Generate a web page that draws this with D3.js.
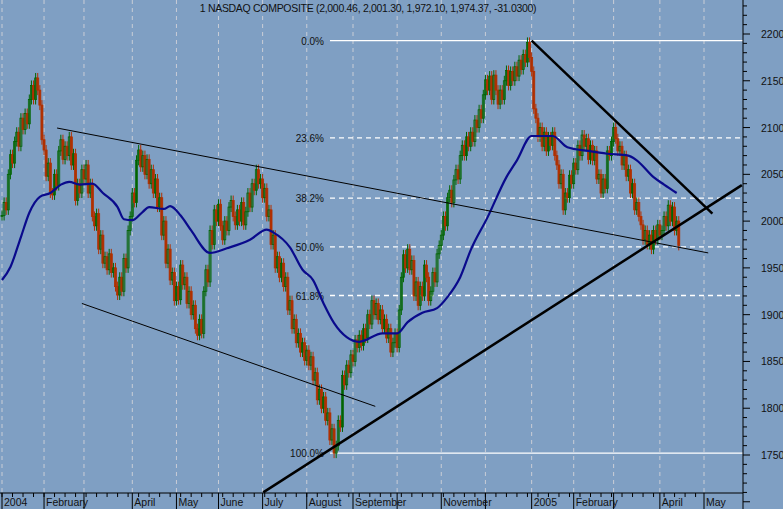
<!DOCTYPE html>
<html>
<head>
<meta charset="utf-8">
<script src="https://cdn.jsdelivr.net/npm/d3@7"></script>
<style>
  body { margin: 0; background: #7f9fc3; }
  svg { display: block; font-family: "Liberation Sans", Arial, sans-serif; }
</style>
</head>
<body>
<svg id="chart" width="783" height="509"></svg>
<script>
// month labels with trading-day index where the month starts ('' = no label)
const monthStarts = [0, 20, 39, 62, 83, 103, 124, 145, 167, 188, 209, 230, 252, 272, 291, 313, 334];
const monthLabels = ['2004', 'February', '', 'April', 'May', 'June', 'July', 'August', 'September', '', 'November', '', '2005', 'February', '', 'April', 'May'];

// daily closes, Jan 2004 .. mid Apr 2005
const closes = [
  2006,2020,2012,2050,2071,2062,2085,2095,2080,2110,2098,2115,2104,2130,2145,2130,2153,2140,2124,2087,
  2076,2048,2062,2030,2028,2050,2038,2075,2087,2066,2080,2070,2090,2060,2072,2022,2040,2030,2055,
  2045,2060,2030,2040,2005,1995,2008,1970,1985,1955,1962,1948,1965,1945,1950,1930,1921,1940,1925,1960,1950,1990,2005,
  2030,2020,2065,2076,2058,2070,2050,2066,2040,2055,2030,2045,2015,2025,1985,2000,1955,1970,1937,1945,1915,
  1930,1916,1953,1932,1940,1912,1925,1900,1910,1885,1878,1895,1880,1925,1948,1935,1990,1975,2012,2000,
  2018,1995,1980,2000,1990,2015,2022,2005,1996,2012,2000,2020,1996,2010,2030,2015,2040,2033,2055,2040,2045,
  2025,2035,2005,2012,1975,1985,1950,1962,1940,1955,1930,1940,1905,1915,1885,1895,1870,1880,1860,1870,1851,
  1862,1846,1855,1830,1838,1809,1820,1800,1812,1787,1795,1766,1778,1752,1760,1787,1780,1835,1825,1846,1838,1857,
  1850,1873,1865,1878,1867,1885,1875,1900,1890,1915,1900,1912,1895,1905,1885,1895,1875,1885,1860,1870,1880,
  1865,1905,1940,1964,1950,1970,1948,1958,1920,1935,1910,1930,1920,1953,1940,1915,1925,1945,1935,1965,1974,
  1985,2005,1995,2025,2033,2020,2044,2055,2045,2070,2081,2070,2090,2080,2095,2085,2108,2100,2119,2110,2135,
  2151,2140,2155,2130,2156,2140,2125,2140,2130,2150,2161,2145,2160,2150,2165,2155,2172,2162,2178,2170,2191,2175,
  2160,2120,2110,2090,2100,2080,2095,2075,2090,2081,2095,2070,2060,2040,2050,2012,2030,2025,2049,2040,
  2062,2055,2081,2070,2092,2080,2088,2066,2081,2065,2075,2045,2050,2030,2045,2035,2075,2070,2085,
  2100,2088,2075,2080,2060,2070,2048,2055,2030,2040,2012,2020,2005,1996,1980,1990,1975,1985,1970,1990,1980,1996,
  1985,1990,2005,1995,2017,2000,2015,1990,2000,1974
];

// moving average (day index, value)
const maIdx = [0,4,9,13,18,23,28,32,37,43,48,55,58,62,67,70,77,80,85,90,99,107,118,126,129,137,143,148,153,158,164,170,181,188,193,200,207,212,218,223,231,240,245,252,262,269,279,288,298,302,310,315,321];
const maVal = [1937,1951,1983,2009,2026,2030,2039,2042,2039,2040,2030,2015,2002,2001,2010,2015,2013,2016,2006,1990,1966,1971,1980,1991,1988,1972,1948,1937,1912,1891,1876,1871,1880,1880,1892,1902,1907,1919,1940,1969,2004,2047,2065,2091,2091,2079,2075,2072,2070,2065,2047,2039,2030];

// Fibonacci retracement between the low and the high
const fibHigh = 2193, fibLow = 1752;
const fibRatios = [0, 0.236, 0.382, 0.5, 0.618, 1];
const fibLabels = ['0.0%', '23.6%', '38.2%', '50.0%', '61.8%', '100.0%'];

// trend lines: [idx0, val0, idx1, val1, width]
const trendLines = [
  [26.2, 2099.5, 336, 1966, 1],
  [38, 1912, 177.6, 1802, 1],
  [124.3, 1710, 352, 2038.5, 2.5],
  [252, 2193, 338, 2008, 2.5]
];

const title = '1 NASDAQ COMPOSITE (2,000.46, 2,001.30, 1,972.10, 1,974.37, -31.0300)';

const svg = d3.select('#chart');
const plotW = 743, plotH = 493;

const x = d3.scaleLinear().domain([0, 334]).range([2, 704]);
const y = d3.scaleLinear().domain([1750, 2200]).range([455, 34]);

svg.append('defs').append('clipPath').attr('id', 'plot').append('rect')
  .attr('width', plotW).attr('height', plotH);

svg.append('rect').attr('width', 783).attr('height', 509).attr('fill', '#7f9fc3');

// month grid
svg.append('g').selectAll('line').data(monthStarts).enter().append('line')
  .attr('x1', d => x(d)).attr('x2', d => x(d))
  .attr('y1', 0).attr('y2', plotH)
  .attr('stroke', '#c9cdd6').attr('stroke-dasharray', '4,4');

// title
svg.append('text').attr('x', 368).attr('y', 12).attr('text-anchor', 'middle')
  .attr('font-size', 10.5).attr('fill', '#111').attr('letter-spacing', '-0.3').text(title);

// fib levels
const fib = svg.append('g');
fibRatios.forEach((r, i) => {
  const v = fibHigh - (fibHigh - fibLow) * r;
  const solid = (r === 0 || r === 1);
  fib.append('line').attr('x1', 330).attr('x2', plotW)
    .attr('y1', y(v)).attr('y2', y(v))
    .attr('stroke', '#fff').attr('stroke-width', 1.3)
    .attr('stroke-dasharray', solid ? null : '5,4');
  fib.append('text').attr('x', 324).attr('y', y(v) + 4).attr('text-anchor', 'end')
    .attr('font-size', 10).attr('fill', '#111').text(fibLabels[i]);
});

const plot = svg.append('g').attr('clip-path', 'url(#plot)');

// candles (open = previous close)
const candles = closes.map((c, i) => ({ i, o: i ? closes[i - 1] : c, c }));
const up = d => d.c >= d.o;
const cg = plot.append('g');
cg.selectAll('line').data(candles).enter().append('line')
  .attr('x1', d => x(d.i)).attr('x2', d => x(d.i))
  .attr('y1', d => y(Math.max(d.o, d.c)) - 5).attr('y2', d => y(Math.min(d.o, d.c)) + 5)
  .attr('stroke', d => up(d) ? '#006400' : '#b03000').attr('stroke-width', 1);
cg.selectAll('rect').data(candles).enter().append('rect')
  .attr('x', d => x(d.i) - 1)
  .attr('y', d => y(Math.max(d.o, d.c)))
  .attr('width', 2)
  .attr('height', d => Math.max(1, Math.abs(y(d.o) - y(d.c))))
  .attr('fill', d => up(d) ? 'none' : '#b03000')
  .attr('stroke', d => up(d) ? '#006400' : '#b03000').attr('stroke-width', 0.8);

// moving average
plot.append('path')
  .datum(maIdx.map((d, k) => [d, maVal[k]]))
  .attr('d', d3.line().x(d => x(d[0])).y(d => y(d[1])).curve(d3.curveMonotoneX))
  .attr('fill', 'none').attr('stroke', '#0a0a8c').attr('stroke-width', 2.2);

// trend lines
plot.append('g').selectAll('line').data(trendLines).enter().append('line')
  .attr('x1', d => x(d[0])).attr('y1', d => y(d[1]))
  .attr('x2', d => x(d[2])).attr('y2', d => y(d[3]))
  .attr('stroke', '#000').attr('stroke-width', d => d[4]);

// right axis
const ra = svg.append('g').attr('transform', `translate(${plotW},0)`);
ra.append('line').attr('y1', 0).attr('y2', 509).attr('stroke', '#000');
ra.selectAll('.mn').data(d3.range(1700, 2251, 10)).enter().append('line')
  .attr('y1', d => y(d)).attr('y2', d => y(d))
  .attr('x2', d => d % 50 === 0 ? 7 : 4).attr('stroke', '#000');
ra.selectAll('text').data(d3.range(1750, 2201, 50)).enter().append('text')
  .attr('x', 18).attr('y', d => y(d) + 4).attr('font-size', 10.5).attr('fill', '#111')
  .text(d => d);

// bottom axis
const ba = svg.append('g');
ba.append('line').attr('x1', 0).attr('x2', plotW).attr('y1', plotH).attr('y2', plotH).attr('stroke', '#000');
ba.selectAll('.wk').data(d3.range(0, 334, 5)).enter().append('line')
  .attr('x1', d => x(d)).attr('x2', d => x(d)).attr('y1', plotH).attr('y2', plotH + 4)
  .attr('stroke', '#000');
ba.selectAll('.sep').data(monthStarts).enter().append('line')
  .attr('x1', d => x(d)).attr('x2', d => x(d)).attr('y1', plotH).attr('y2', 509)
  .attr('stroke', '#000');
ba.selectAll('text').data(monthStarts).enter().append('text')
  .attr('x', d => x(d) + 2).attr('y', 506).attr('font-size', 10.5).attr('fill', '#111')
  .text((d, i) => monthLabels[i]);
</script>
</body>
</html>
